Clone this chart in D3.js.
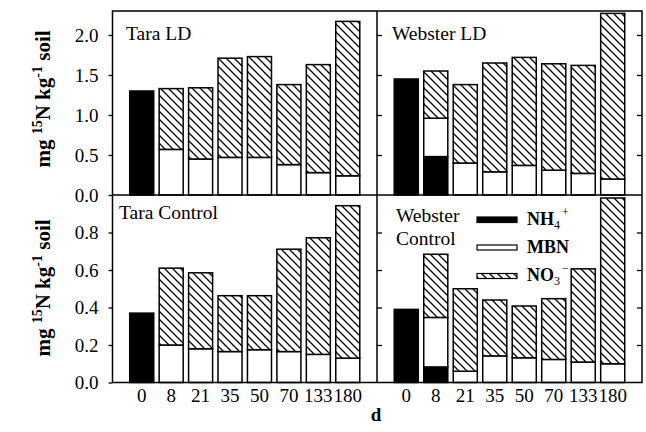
<!DOCTYPE html>
<html><head><meta charset="utf-8">
<script src="https://cdn.jsdelivr.net/npm/d3@7"></script>
<style>
html,body{margin:0;padding:0;background:#fff;}
</style></head>
<body>
<svg id="chart" width="646" height="432"></svg>
<script>
// ---- data ----
const categories = ["0","8","21","35","50","70","133","180"];
const seriesKeys = ["NH4","MBN","NO3"];

const taraLD_NH4 = [1.30, 0, 0, 0, 0, 0, 0, 0];
const taraLD_MBN = [0, 0.57, 0.45, 0.47, 0.47, 0.38, 0.28, 0.24];
const taraLD_NO3 = [0, 0.76, 0.89, 1.24, 1.26, 1.00, 1.35, 1.93];

const websterLD_NH4 = [1.45, 0.48, 0, 0, 0, 0, 0, 0];
const websterLD_MBN = [0, 0.48, 0.40, 0.29, 0.37, 0.31, 0.27, 0.20];
const websterLD_NO3 = [0, 0.59, 0.98, 1.36, 1.35, 1.33, 1.35, 2.07];

const taraCtl_NH4 = [0.37, 0, 0, 0, 0, 0, 0, 0];
const taraCtl_MBN = [0, 0.20, 0.18, 0.165, 0.175, 0.165, 0.15, 0.13];
const taraCtl_NO3 = [0, 0.41, 0.405, 0.298, 0.288, 0.546, 0.622, 0.813];

const websterCtl_NH4 = [0.39, 0.083, 0, 0, 0, 0, 0, 0];
const websterCtl_MBN = [0, 0.264, 0.06, 0.142, 0.132, 0.123, 0.109, 0.10];
const websterCtl_NO3 = [0, 0.337, 0.44, 0.298, 0.276, 0.324, 0.497, 0.884];

const topTicks = [0, 0.5, 1.0, 1.5, 2.0];
const bottomTicks = [0, 0.2, 0.4, 0.6, 0.8];
const topDomain = [0, 2.3];
const bottomDomain = [0, 1.0];

// ---- layout ----
const FONT = "Liberation Serif, DejaVu Serif, serif";
const L = 112.5, M = 377, R = 642;
const T = 11, Mid = 195, B = 382.5;

const svg = d3.select("#chart").style("font-family", FONT);
const defs = svg.append("defs");
const pat = defs.append("pattern").attr("id","hatch")
  .attr("patternUnits","userSpaceOnUse").attr("width",8).attr("height",8);
pat.append("rect").attr("width",8).attr("height",8).attr("fill","#fff");
pat.append("path").attr("d","M0,0L8,8M-1,7L1,9M7,-1L9,1")
  .attr("stroke","#000").attr("stroke-width",1.3);

const fills = {NH4:"#000", MBN:"#fff", NO3:"url(#hatch)"};

const yTop = d3.scaleLinear().domain(topDomain).range([Mid, T]);
const yBot = d3.scaleLinear().domain(bottomDomain).range([B, Mid]);
const xLeft = d3.scaleBand().domain(categories).range([L, M]).paddingInner(0.184).paddingOuter(0.585);
const xRight = d3.scaleBand().domain(categories).range([M, R]).paddingInner(0.184).paddingOuter(0.585);

const panels = [
  {x:xLeft, y:yTop, NH4:taraLD_NH4, MBN:taraLD_MBN, NO3:taraLD_NO3},
  {x:xRight, y:yTop, NH4:websterLD_NH4, MBN:websterLD_MBN, NO3:websterLD_NO3},
  {x:xLeft, y:yBot, NH4:taraCtl_NH4, MBN:taraCtl_MBN, NO3:taraCtl_NO3},
  {x:xRight, y:yBot, NH4:websterCtl_NH4, MBN:websterCtl_MBN, NO3:websterCtl_NO3}
];

panels.forEach(p => {
  const rows = categories.map((c,i) => ({cat:c, NH4:p.NH4[i], MBN:p.MBN[i], NO3:p.NO3[i]}));
  const stacked = d3.stack().keys(seriesKeys)(rows);
  const g = svg.append("g");
  stacked.forEach(layer => {
    g.selectAll(null).data(layer.filter(d => d[1]-d[0] > 0)).enter().append("rect")
      .attr("x", d => p.x(d.data.cat))
      .attr("width", p.x.bandwidth())
      .attr("y", d => p.y(d[1]))
      .attr("height", d => p.y(d[0]) - p.y(d[1]))
      .attr("fill", fills[layer.key])
      .attr("stroke","#000").attr("stroke-width",1.5);
  });
});

// ---- axes ----
function styleAxis(g){
  g.attr("font-family", null).style("font-family", FONT);
  g.selectAll(".domain").remove();
  g.selectAll("line").attr("stroke","#000").attr("stroke-width",1.3);
  g.selectAll("text").attr("font-size",19).attr("fill","#000").style("font-family", FONT);
}
const fmt = d3.format(".1f");
svg.append("g").attr("transform",`translate(${L},0)`)
  .call(d3.axisLeft(yTop).tickValues(topTicks).tickFormat(fmt).tickSize(4).tickPadding(10)).call(styleAxis);
svg.append("g").attr("transform",`translate(${L},0)`)
  .call(d3.axisLeft(yBot).tickValues(bottomTicks).tickFormat(fmt).tickSize(4).tickPadding(10)).call(styleAxis);
// inner ticks (no labels)
[[yTop,topTicks],[yBot,bottomTicks]].forEach(([sc,tv]) => {
  svg.append("g").attr("transform",`translate(${M},0)`)
    .call(d3.axisRight(sc).tickValues(tv.filter(v=>v>0)).tickFormat("").tickSize(5)).call(styleAxis);
  svg.append("g").attr("transform",`translate(${R},0)`)
    .call(d3.axisLeft(sc).tickValues(tv.filter(v=>v>0)).tickFormat("").tickSize(5)).call(styleAxis);
});
// x axis labels
[xLeft, xRight].forEach(sc => {
  svg.append("g").attr("transform",`translate(0,${B})`)
    .call(d3.axisBottom(sc).tickSize(0).tickPadding(6)).call(styleAxis);
});

// ---- frame ----
const frame = svg.append("g").attr("stroke","#000").attr("stroke-width",1.5).attr("fill","none");
frame.append("rect").attr("x",L).attr("y",T).attr("width",R-L).attr("height",B-T);
frame.append("line").attr("x1",L).attr("x2",R).attr("y1",Mid).attr("y2",Mid);
frame.append("line").attr("x1",M).attr("x2",M).attr("y1",T).attr("y2",B);

// ---- panel labels ----
const lab = svg.append("g").attr("font-size",19.5).attr("fill","#000");
lab.append("text").attr("x",126).attr("y",39.5).text("Tara LD");
lab.append("text").attr("x",392).attr("y",39.5).text("Webster LD");
lab.append("text").attr("x",119).attr("y",218.5).text("Tara Control");
lab.append("text").attr("x",396).attr("y",221.5).text("Webster");
lab.append("text").attr("x",396).attr("y",245).text("Control");

// ---- legend ----
const legendItems = [
  {key:"NH4", y:217, h:5.5, base:"NH", sub:"4", sup:"+", ty:224.5},
  {key:"MBN", y:245, h:5, base:"MBN", sub:"", sup:"", ty:252.5},
  {key:"NO3", y:273.5, h:5, base:"NO", sub:"3", sup:"−", ty:281}
];
const lg = svg.append("g");
legendItems.forEach(it => {
  lg.append("rect").attr("x",477).attr("y",it.y).attr("width",40).attr("height",it.h)
    .attr("fill",fills[it.key]).attr("stroke","#000").attr("stroke-width",1.2);
  const t = lg.append("text").attr("x",527).attr("y",it.ty).attr("font-size",18)
    .attr("font-weight","bold").attr("fill","#000");
  t.append("tspan").text(it.base);
  if (it.sub) t.append("tspan").attr("font-size",12).attr("font-weight","normal").attr("dy",4).text(it.sub);
  if (it.sup) t.append("tspan").attr("font-size",12).attr("font-weight","normal").attr("dx",2).attr("dy",-13).text(it.sup);
});

// ---- axis titles ----
function yTitle(cy){
  const t = svg.append("text").attr("transform",`translate(50,${cy}) rotate(-90)`)
    .attr("text-anchor","middle").attr("font-size",21).attr("font-weight","bold").attr("fill","#000");
  t.append("tspan").text("mg ");
  t.append("tspan").attr("font-size",14).attr("dy",-8).text("15");
  t.append("tspan").attr("dy",8).text("N kg");
  t.append("tspan").attr("font-size",14).attr("dy",-8).text("-1");
  t.append("tspan").attr("dy",8).text(" soil");
}
yTitle(99);
yTitle(288);
svg.append("text").attr("x",376).attr("y",421).attr("text-anchor","middle")
  .attr("font-size",19).attr("font-weight","bold").attr("fill","#000").text("d");
</script>
</body></html>
